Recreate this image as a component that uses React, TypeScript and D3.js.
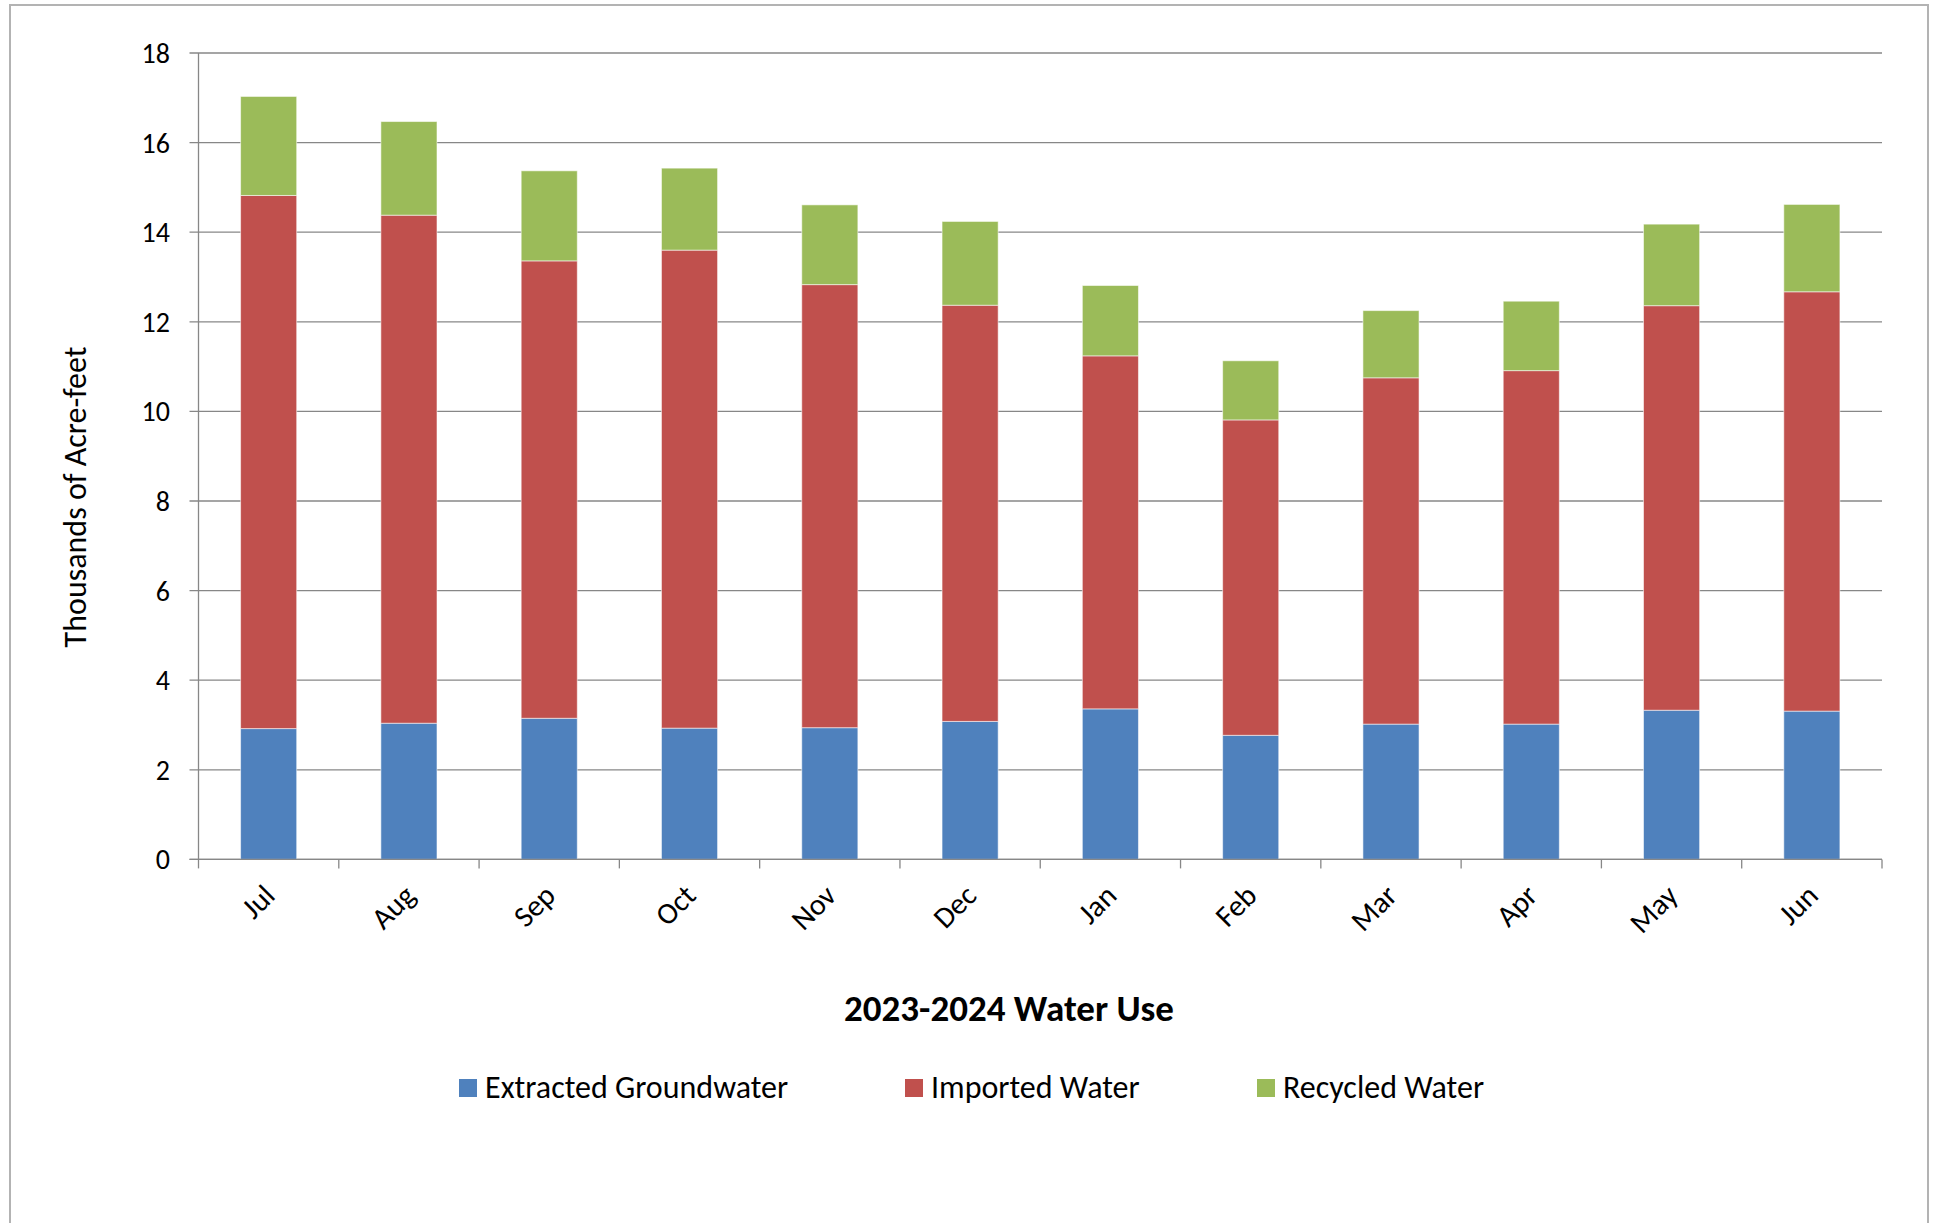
import React from 'react'
import * as d3 from 'd3'

// monthly water use, thousands of acre-feet
const months = ['Jul', 'Aug', 'Sep', 'Oct', 'Nov', 'Dec', 'Jan', 'Feb', 'Mar', 'Apr', 'May', 'Jun']
const groundwater = [2.92, 3.04, 3.15, 2.93, 2.94, 3.08, 3.36, 2.77, 3.02, 3.02, 3.33, 3.31]
const imported = [11.9, 11.34, 10.21, 10.67, 9.89, 9.29, 7.88, 7.04, 7.73, 7.89, 9.03, 9.36]
const recycled = [2.21, 2.09, 2.01, 1.83, 1.78, 1.87, 1.57, 1.32, 1.5, 1.55, 1.82, 1.95]
const yTicks = [0, 2, 4, 6, 8, 10, 12, 14, 16, 18]

const seriesNames = ['Extracted Groundwater', 'Imported Water', 'Recycled Water']
const colors = ['#4F81BD', '#C0504D', '#9BBB59']

const font = 'Carlito, Lato, sans-serif'

const W = 1935
const H = 1223
const plot = { left: 198.5, right: 1882, top: 53, bottom: 859.4 }

const App = () => {
  const rows = months.map((m, i) => ({
    month: m,
    [seriesNames[0]]: groundwater[i],
    [seriesNames[1]]: imported[i],
    [seriesNames[2]]: recycled[i]
  }))

  const stacked = d3.stack<any>().keys(seriesNames)(rows)

  const x = d3
    .scaleBand()
    .domain(months)
    .range([plot.left, plot.right])
    .paddingInner(0.6)
    .paddingOuter(0.3)

  const y = d3
    .scaleLinear()
    .domain([0, 18])
    .range([plot.bottom, plot.top])

  const step = x.step()
  const boundaries = months.map(m => x(m)! - step * 0.3).concat([plot.right])

  // legend item start positions
  const legendX = [459, 905, 1257]

  return (
    <svg
      width={W}
      height={H}
      viewBox={`0,0,${W},${H}`}
      style={{ position: 'absolute', left: 0, top: 0, background: '#fff' }}
    >
      <rect x={10} y={5} width={1918} height={H + 20} fill="#fff" stroke="#b3b3b3" strokeWidth={2} />

      {/* gridlines + y ticks */}
      {yTicks.map(t => (
        <g key={t}>
          <line x1={plot.left - 9} x2={plot.right} y1={y(t)} y2={y(t)} stroke="#878787" strokeWidth={1.3} />
          <text
            x={170}
            y={y(t)}
            dy="0.36em"
            textAnchor="end"
            fontFamily={font}
            fontSize={28}
            fill="#000"
          >
            {t}
          </text>
        </g>
      ))}

      {/* bars */}
      {stacked.map((s, si) => (
        <g key={s.key} fill={colors[si]}>
          {s.map((d, i) => (
            <rect
              key={months[i]}
              x={x(months[i])}
              y={y(d[1])}
              width={x.bandwidth()}
              height={y(d[0]) - y(d[1])}
              stroke="rgba(255,255,255,0.55)"
              strokeWidth={1}
            />
          ))}
        </g>
      ))}

      {/* axes */}
      <line x1={plot.left} x2={plot.left} y1={plot.top} y2={plot.bottom} stroke="#878787" strokeWidth={1.3} />
      <line x1={plot.left - 9} x2={plot.right} y1={plot.bottom} y2={plot.bottom} stroke="#878787" strokeWidth={1.3} />
      {boundaries.map((bx, i) => (
        <line key={i} x1={bx} x2={bx} y1={plot.bottom} y2={plot.bottom + 9} stroke="#878787" strokeWidth={1.3} />
      ))}

      {/* month labels */}
      {months.map(m => {
        const cx = x(m)! + x.bandwidth() / 2
        return (
          <text
            key={m}
            transform={`translate(${cx + 8},${plot.bottom + 38}) rotate(-45)`}
            textAnchor="end"
            fontFamily={font}
            fontSize={30}
            fill="#000"
          >
            {m}
          </text>
        )
      })}

      <text
        transform={`translate(86,497) rotate(-90)`}
        textAnchor="middle"
        fontFamily={font}
        fontSize={32}
        fill="#000"
      >
        Thousands of Acre-feet
      </text>

      <text x={1009} y={1021} textAnchor="middle" fontFamily={font} fontSize={37} fontWeight="bold" fill="#000">
        2023-2024 Water Use
      </text>

      {seriesNames.map((n, i) => (
        <g key={n} transform={`translate(${legendX[i]},1079)`}>
          <rect width={18} height={18} fill={colors[i]} />
          <text x={26} y={19} fontFamily={font} fontSize={32} fill="#000">
            {n}
          </text>
        </g>
      ))}
    </svg>
  )
}

export default App
